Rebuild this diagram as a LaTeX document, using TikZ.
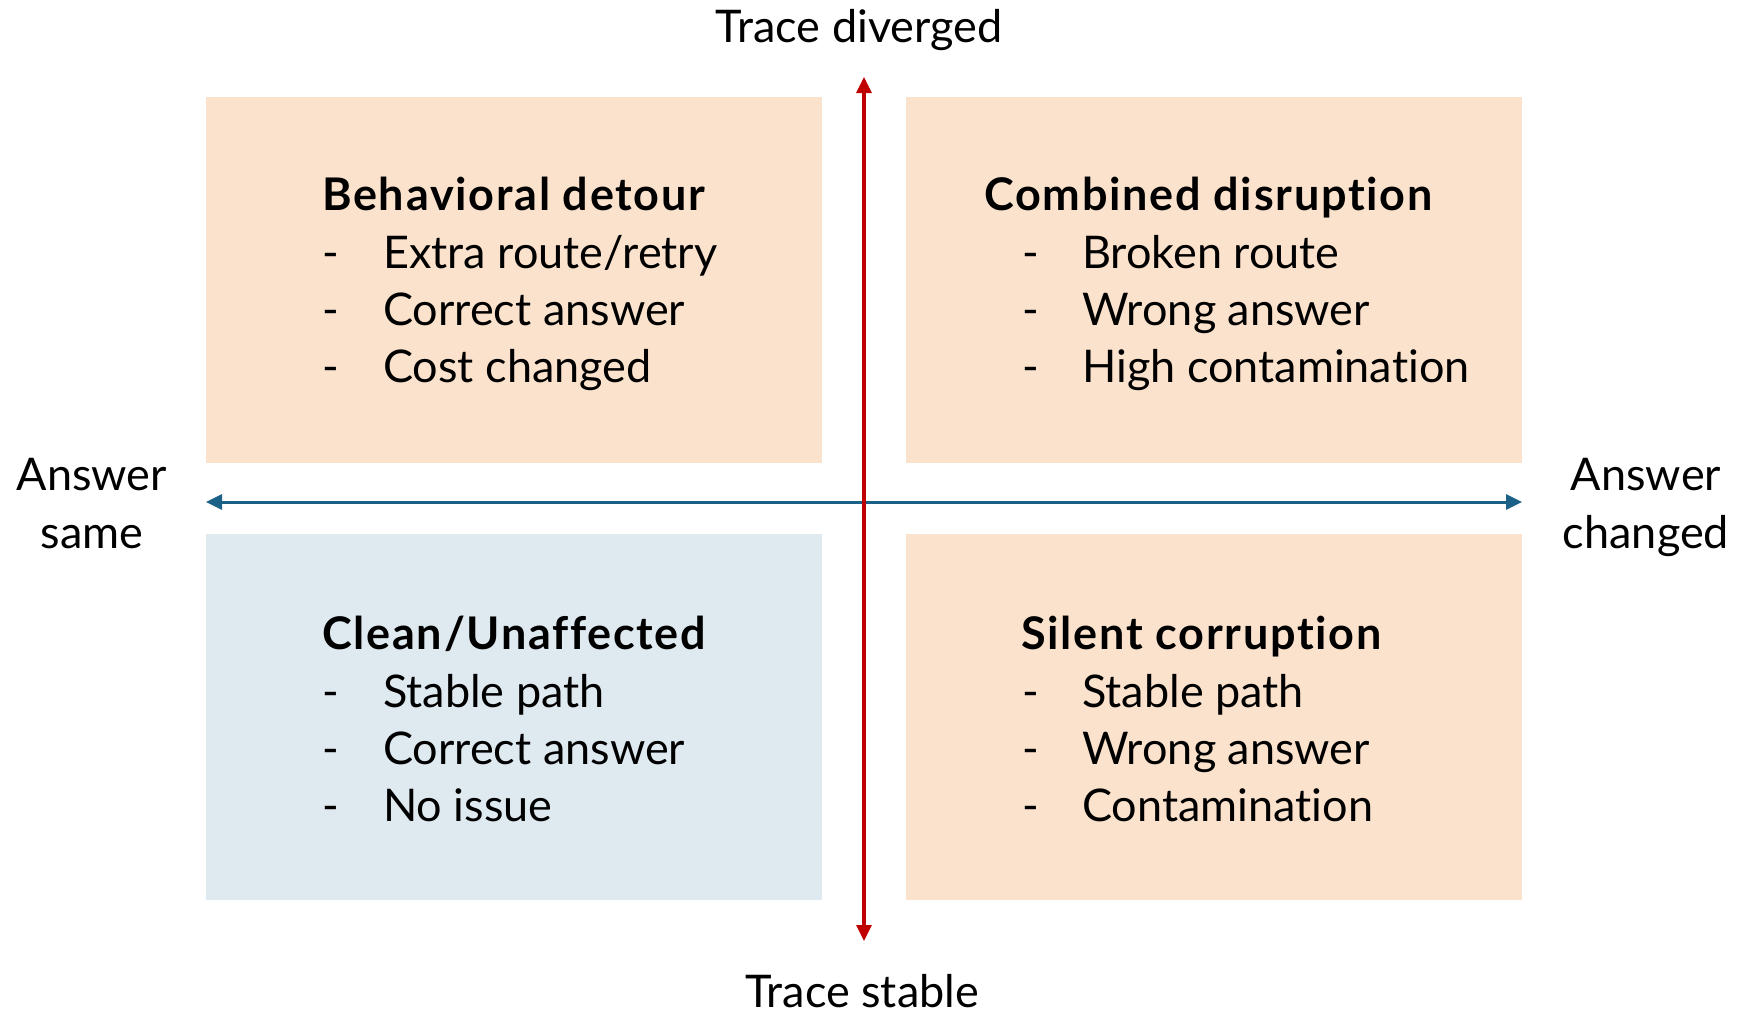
\documentclass[tikz,border=0pt]{standalone}
\usepackage{fontspec}
\setmainfont{Lato}[Ligatures={NoCommon,NoRare}]
\newfontfamily\ttlfont{Lato}[LetterSpace=3.8,Ligatures={NoCommon,NoRare}]
\usetikzlibrary{arrows.meta}
\definecolor{peach}{HTML}{FBE2CD}
\definecolor{paleblue}{HTML}{DFE9F0}
\definecolor{axisblue}{HTML}{1A6087}
\definecolor{axisred}{HTML}{C00000}
\begin{document}
\begin{tikzpicture}[x=1pt,y=-1pt,
  >={Triangle[length=16pt,width=15pt]},
  quad/.style={inner sep=0pt, outer sep=0pt, minimum width=616.5pt, minimum height=366pt, anchor=north west},
  txt/.style={inner sep=0pt, anchor=base west, font=\fontsize{45}{54}\selectfont},
  ttl/.style={txt, font=\fontsize{45}{54}\ttlfont\bfseries},
  axlbl/.style={inner sep=0pt, anchor=base, font=\fontsize{45}{54}\selectfont}
]
\useasboundingbox (0,0) rectangle (1742,1013);
\node[quad, fill=peach] (tl) at (205.5,97) {};
\node[quad, fill=peach] (tr) at (905.5,97) {};
\node[quad, fill=paleblue] (bl) at (205.5,534) {};
\node[quad, fill=peach] (br) at (905.5,534) {};

\coordinate (vt) at (864,77);
\coordinate (vb) at (864,941);
\coordinate (hl) at (206,502);
\coordinate (hr) at (1522,502);
\draw[line width=3pt, axisblue, <->] (hl) -- (hr);
\draw[line width=3.2pt, axisred, <->] (vt) -- (vb);

\node[axlbl] (td) at (859,42) {Trace diverged};
\node[axlbl] (ts) at (862,1007) {Trace stable};
\node[axlbl] (as1) at (92,490) {Answer};
\node[axlbl] (as2) at (92,548) {same};
\node[axlbl] (ac1) at (1646,490) {Answer};
\node[axlbl] (ac2) at (1646,548) {changed};

% top-left
\node[ttl] (tlt) at (322,210) {Behavioral detour};
\node[txt] (tld1) at (322,268) {-}; \node[txt] (tl1) at (383,268) {Extra route/retry};
\node[txt] (tld2) at (322,325) {-}; \node[txt] (tl2) at (383,325) {Correct answer};
\node[txt] (tld3) at (322,382) {-}; \node[txt] (tl3) at (383,382) {Cost changed};
% top-right
\node[ttl] (trt) at (984,210) {Combined disruption};
\node[txt] (trd1) at (1022,268) {-}; \node[txt] (tr1) at (1082,268) {Broken route};
\node[txt] (trd2) at (1022,325) {-}; \node[txt] (tr2) at (1082,325) {Wrong answer};
\node[txt] (trd3) at (1022,382) {-}; \node[txt] (tr3) at (1082,382) {High contamination};
% bottom-left
\node[ttl] (blt) at (322,649) {Clean/Unaffected};
\node[txt] (bld1) at (322,707) {-}; \node[txt] (bl1) at (383,707) {Stable path};
\node[txt] (bld2) at (322,764) {-}; \node[txt] (bl2) at (383,764) {Correct answer};
\node[txt] (bld3) at (322,821) {-}; \node[txt] (bl3) at (383,821) {No issue};
% bottom-right
\node[ttl] (brt) at (1021,649) {Silent corruption};
\node[txt] (brd1) at (1022,707) {-}; \node[txt] (br1) at (1082,707) {Stable path};
\node[txt] (brd2) at (1022,764) {-}; \node[txt] (br2) at (1082,764) {Wrong answer};
\node[txt] (brd3) at (1022,821) {-}; \node[txt] (br3) at (1082,821) {Contamination};
\end{tikzpicture}
\end{document}
